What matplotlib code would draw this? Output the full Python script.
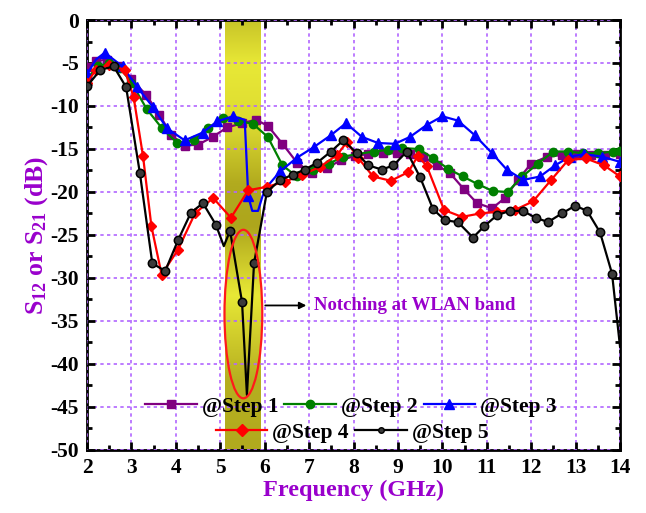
import numpy as np
import matplotlib
matplotlib.use("Agg")
import matplotlib.pyplot as plt
from matplotlib.patches import Ellipse
from matplotlib.colors import LinearSegmentedColormap
from matplotlib.ticker import MultipleLocator
from matplotlib.lines import Line2D

plt.rcParams['font.family'] = ['Liberation Serif', 'DejaVu Serif']
plt.rcParams['font.weight'] = 'bold'
plt.rcParams['mathtext.fontset'] = 'custom'
plt.rcParams['mathtext.rm'] = 'Liberation Serif:bold'
plt.rcParams['mathtext.it'] = 'Liberation Serif:bold'
plt.rcParams['mathtext.bf'] = 'Liberation Serif:bold'

# ---------------- data ----------------
f1 = [2.0, 2.2, 2.45, 2.7, 3.0, 3.33, 3.63, 3.9, 4.2, 4.5, 4.83, 5.15, 5.5, 5.8, 6.07, 6.4, 6.73,
      7.06, 7.4, 7.72, 8.03, 8.33, 8.67, 8.98, 9.27, 9.56, 9.88, 10.17, 10.49, 10.78, 11.12, 11.41,
      11.7, 12.0, 12.36, 12.7, 13.03, 13.35, 13.66, 14.0]
s1 = [-5.5, -4.8, -4.6, -5.3, -6.9, -8.7, -11.0, -13.4, -14.6, -14.5, -13.6, -12.5, -12.0, -11.6,
      -12.3, -14.4, -16.6, -17.8, -17.2, -16.3, -15.8, -15.6, -15.5, -15.5, -15.6, -15.9, -16.9,
      -17.8, -19.7, -21.3, -21.9, -20.7, -18.6, -16.7, -15.9, -15.7, -15.6, -15.7, -15.7, -15.6]

f2 = [2.0, 2.25, 2.5, 2.75, 3.0, 3.35, 3.69, 4.03, 4.4, 4.72, 5.06, 5.4, 5.74, 6.07, 6.4, 6.72,
      7.08, 7.45, 7.76, 8.08, 8.45, 8.78, 9.1, 9.47, 9.8, 10.13, 10.46, 10.8, 11.14, 11.47, 11.8,
      12.15, 12.5, 12.83, 13.17, 13.5, 13.85, 14.0]
s2 = [-6.8, -5.4, -5.0, -5.6, -7.3, -10.4, -12.6, -14.3, -14.0, -12.6, -11.4, -11.7, -12.1, -13.6,
      -16.9, -18.2, -17.4, -16.7, -15.9, -15.6, -15.3, -15.1, -14.9, -15.0, -16.1, -17.3, -18.2,
      -19.1, -19.9, -20.0, -18.2, -16.7, -15.3, -15.3, -15.5, -15.5, -15.3, -15.2]

f3 = [2.0, 2.2, 2.4, 2.8, 3.13, 3.48, 3.8, 4.2, 4.6, 4.93, 5.28, 5.55, 5.63, 5.72, 5.85, 5.95,
      6.05, 6.35, 6.73, 7.1, 7.49, 7.83, 8.19, 8.55, 8.93, 9.27, 9.65, 10.0, 10.35, 10.73, 11.12,
      11.45, 11.82, 12.2, 12.54, 12.87, 13.2, 13.6, 14.0]
s3 = [-6.3, -4.6, -3.8, -5.4, -7.8, -10.1, -12.6, -14.0, -13.1, -11.8, -11.2, -11.6, -20.5, -22.2,
      -22.2, -20.5, -19.4, -17.6, -16.0, -14.8, -13.4, -12.0, -13.6, -14.3, -14.4, -13.6, -12.2,
      -11.2, -11.7, -13.4, -15.5, -17.4, -18.6, -18.2, -16.9, -15.9, -15.6, -15.9, -16.5]
m3 = [0, 2, 3, 4, 5, 6, 7, 8, 9, 10, 12, 16, 17, 18, 19, 20, 21, 22, 23, 24, 25, 26, 27, 28, 29,
      30, 31, 32, 33, 34, 35, 36, 37, 38]

f4 = [2.0, 2.2, 2.5, 2.85, 3.05, 3.26, 3.45, 3.68, 4.05, 4.43, 4.84, 5.24, 5.63, 6.05, 6.46, 6.84,
      7.24, 7.63, 7.85, 8.1, 8.44, 8.84, 9.23, 9.45, 9.65, 10.04, 10.44, 10.85, 11.23, 11.63, 12.04,
      12.45, 12.83, 13.23, 13.64, 14.0]
s4 = [-7.3, -5.8, -5.2, -5.8, -9.0, -15.8, -24.0, -29.6, -26.7, -22.5, -20.7, -23.0, -19.8, -19.4,
      -18.8, -18.0, -17.1, -15.7, -14.2, -16.0, -18.2, -18.7, -17.7, -15.8, -17.0, -22.1, -22.9,
      -22.5, -22.3, -22.1, -21.1, -18.6, -16.3, -16.1, -16.9, -18.2]

f5 = [2.0, 2.3, 2.6, 2.88, 3.19, 3.47, 3.76, 4.05, 4.34, 4.61, 4.9, 5.08, 5.22, 5.49, 5.6, 5.76,
      6.05, 6.35, 6.63, 6.9, 7.18, 7.49, 7.77, 8.08, 8.33, 8.64, 8.9, 9.2, 9.5, 9.79, 10.06, 10.35,
      10.69, 10.94, 11.23, 11.52, 11.81, 12.1, 12.38, 12.69, 12.99, 13.26, 13.55, 13.82, 14.0]
s5 = [-7.7, -5.8, -5.4, -7.8, -17.8, -28.3, -29.2, -25.6, -22.4, -21.3, -23.8, -26.3, -24.5, -32.8,
      -43.6, -28.3, -20.0, -18.6, -18.0, -17.4, -16.6, -15.3, -14.0, -15.5, -16.9, -17.4, -16.9,
      -15.3, -18.3, -22.0, -23.3, -23.5, -25.3, -24.0, -22.7, -22.2, -22.2, -23.0, -23.5, -22.5,
      -21.6, -22.2, -24.7, -29.5, -38.0]
m5 = [i for i in range(len(f5)) if i not in (11, 14, len(f5) - 1)]

labels = ['@Step 1', '@Step 2', '@Step 3', '@Step 4', '@Step 5']
band = (5.1, 5.9)
# vertical brightness profile of highlighted band (dB level, brightness 0..1)
band_levels = [0, -5, -12, -19, -24, -32, -42, -50]
band_bright = [0.6, 1.0, 0.85, 0.3, 0.25, 1.0, 0.35, 0.3]

# ---------------- figure ----------------
fig = plt.figure(figsize=(6.46, 5.13), dpi=100)
ax = fig.add_axes([0.1347, 0.123, 0.8251, 0.838])
ax.set_xlim(2, 14)
ax.set_ylim(-50, 0)

# band gradient
yy = np.linspace(0, -50, 200)
bright = np.interp(-yy, [-v for v in band_levels], band_bright)
cmap = LinearSegmentedColormap.from_list('band', ['#9a9014', '#e8e836'])
ax.imshow(bright[:, None], extent=[band[0], band[1], -50, 0], aspect='auto', cmap=cmap,
          vmin=0, vmax=1, zorder=0.5, origin='upper', interpolation='bilinear')

ax.grid(True, which='major', color='#b266ff', linestyle=(0, (2, 2)), linewidth=1.2, zorder=0.6)
ax.set_axisbelow(False)

ax.xaxis.set_major_locator(MultipleLocator(1))
ax.xaxis.set_minor_locator(MultipleLocator(0.5))
ax.yaxis.set_major_locator(MultipleLocator(5))
ax.yaxis.set_minor_locator(MultipleLocator(2.5))
ax.tick_params(which='both', direction='in', top=True, right=True, width=2)
ax.tick_params(which='major', length=6, labelsize=15.5, pad=6)
ax.tick_params(which='minor', length=3.5)
for sp in ax.spines.values():
    sp.set_linewidth(2)
ax.set_yticks(np.arange(-50, 1, 5))
ax.set_yticklabels([str(int(v)) for v in np.arange(-50, 1, 5)])

lw = 1.6
l1, = ax.plot(f1, s1, color='#800080', marker='s', ms=6, lw=lw, label=labels[0], zorder=3)
l2, = ax.plot(f2, s2, color='#008000', marker='o', ms=6, lw=lw, label=labels[1], zorder=3)
l3, = ax.plot(f3, s3, color='#0000ff', marker='^', ms=7, lw=lw, markevery=m3, label=labels[2], zorder=3)
l4, = ax.plot(f4, s4, color='#ff0000', marker='D', ms=5.5, lw=lw, label=labels[3], zorder=3)
l5, = ax.plot(f5, s5, color='black', marker='o', ms=6, mfc='#3a3a3a', mec='black', mew=1.1,
              lw=lw, markevery=m5, label=labels[4], zorder=4)

ell = Ellipse((5.52, -34.2), 0.85, 19.6, fill=False, edgecolor='#ff1a1a', lw=1.6, zorder=5)
ax.add_patch(ell)
ax.annotate('', xy=(7.0, -33.2), xytext=(5.95, -33.2),
            arrowprops=dict(arrowstyle='-|>', color='black', lw=1.3, mutation_scale=10), zorder=6)
ax.text(7.12, -33.2, 'Notching at WLAN band', color='#9900cc', fontsize=13.5, fontweight='bold',
        va='center', ha='left', zorder=6)

ax.set_xlabel('Frequency (GHz)', color='#9900cc', fontsize=17.5, fontweight='bold', labelpad=1)
ax.set_ylabel(r'S$_{12}$ or S$_{21}$ (dB)', color='#9900cc', fontsize=18.5, fontweight='bold', labelpad=0)

legkw = dict(frameon=False, fontsize=15.5, handlelength=2.4, handletextpad=0.23,
             columnspacing=0.28, borderpad=0, borderaxespad=0)
def lh(line, ms):
    return Line2D([], [], color=line.get_color(), marker=line.get_marker(), ms=ms,
                  mfc=line.get_markerfacecolor(), mec=line.get_markeredgecolor(), lw=1.6)
leg1 = ax.legend([lh(l1, 6), lh(l2, 6), lh(l3, 7)], labels[:3], ncol=3, loc='center',
                 bbox_to_anchor=(0.495, 0.1), **legkw)
ax.add_artist(leg1)
leg2 = ax.legend([lh(l4, 6), lh(l5, 4)], labels[3:], ncol=2, loc='center',
                 bbox_to_anchor=(0.497, 0.04), **legkw)
for lg in (leg1, leg2):
    lg.set_zorder(7)

fig.savefig('out.png', dpi=100)
